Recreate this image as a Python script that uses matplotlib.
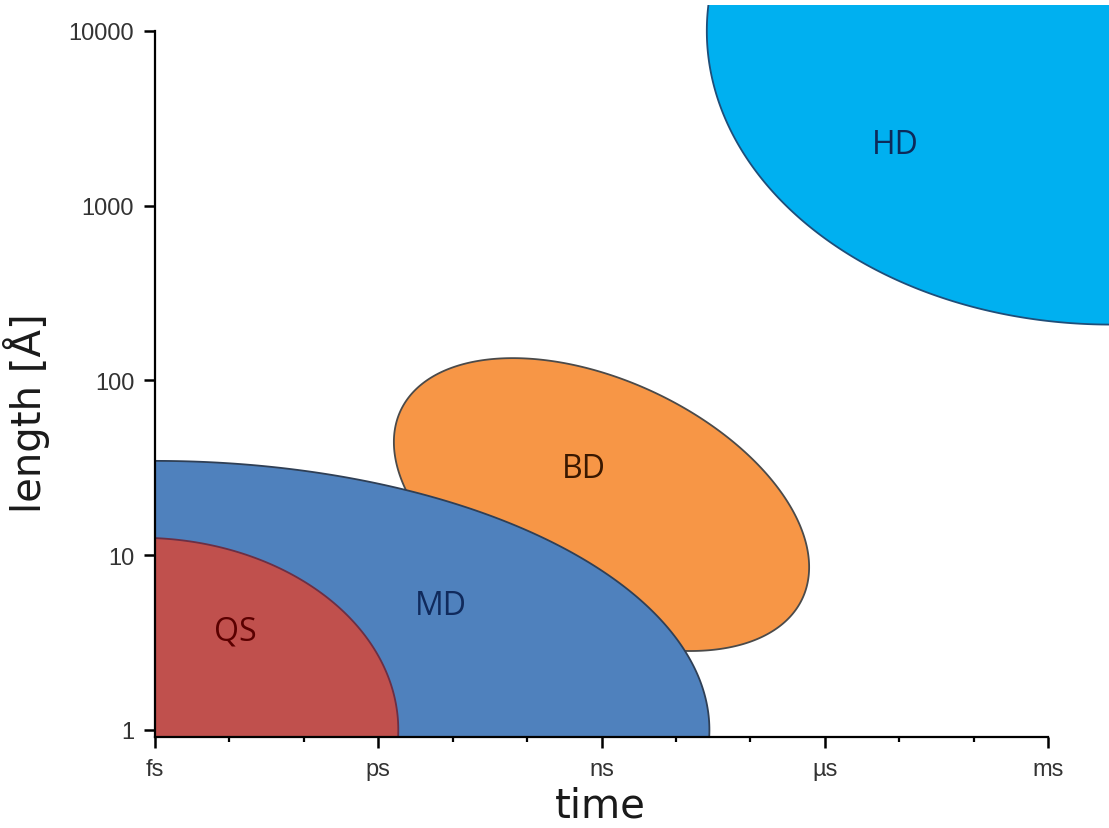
import numpy as np
import matplotlib.pyplot as plt
from matplotlib.ticker import NullFormatter, NullLocator
from matplotlib.transforms import Bbox, TransformedBbox

# Regions of the time / length map (ellipses drawn in log-log space)
regions = ["QS", "MD", "BD", "HD"]
centre_time = [6.3e-16, 1e-15, 1e-9, 7e-3]       # s
centre_length = [1.0, 1.0, 19.5, 10000.0]        # Å
time_span = [3.47, 7.45, 2.79, 5.43]             # half width, decades
length_span = [1.10, 1.54, 0.838, 1.68]          # half height, decades
tilt = [0.0, 0.0, -0.427, 0.0]

label_time = [1.2e-14, 7.0e-12, 5.8e-10, 8.8e-6]
label_length = [3.69, 5.19, 31.2, 2256.0]

fill_colors = ["#C0504D", "#4F81BD", "#F79646", "#00B0F0"]
edge_colors = ["#6b2f45", "#2f3f55", "#4a4a4a", "#1f4e79"]
text_colors = ["#5a0000", "#102a5c", "#3a1800", "#0d2a5a"]
layer = [1.3, 1.2, 1.1, 1.0]

time_ticks = [1e-15, 1e-12, 1e-9, 1e-6, 1e-3]
time_labels = ["fs", "ps", "ns", "µs", "ms"]
length_ticks = [1, 10, 100, 1000, 10000]
length_labels = ["1", "10", "100", "1000", "10000"]


def ellipse_outline(t0, l0, dx, dy, rho, n=600):
    t = np.linspace(0, 2 * np.pi, n)
    d = np.arccos(rho)
    lx = np.log10(t0) + dx * np.cos(t)
    ly = np.log10(l0) + dy * np.cos(t + d)
    return 10 ** lx, 10 ** ly


fig = plt.figure(figsize=(11.09, 8.29), dpi=100)
ax = fig.add_axes([155 / 1109, 91 / 829, 893 / 1109, 706 / 829])
ax.set_xscale("log")
ax.set_yscale("log")
ax.set_xlim(1e-15, 1e-3)
ax.set_ylim(10 ** (-7 / 174.75), 10000)

for i, name in enumerate(regions):
    xs, ys = ellipse_outline(centre_time[i], centre_length[i], time_span[i],
                             length_span[i], tilt[i])
    patch = ax.fill(xs, ys, facecolor=fill_colors[i], edgecolor=edge_colors[i],
                    linewidth=1.3, zorder=layer[i])[0]
    if name == "HD":
        # this one spills out of the axes up to the figure border
        patch.set_clip_box(TransformedBbox(Bbox([[0, 0], [1, 1 - 6 / 829]]),
                                           fig.transFigure))
    ax.text(label_time[i], label_length[i], name, color=text_colors[i],
            fontsize=23, family=["Open Sans", "DejaVu Sans"],
            ha="center", va="center", zorder=4)

for side in ["top", "right"]:
    ax.spines[side].set_visible(False)
for side in ["left", "bottom"]:
    ax.spines[side].set_linewidth(1.6)
    ax.spines[side].set_zorder(3)

ax.set_xticks(time_ticks)
ax.set_xticklabels(time_labels)
minor = [10.0 ** e for e in range(-15, -2) if e % 3 != 0]
ax.set_xticks(minor, minor=True)
ax.xaxis.set_minor_formatter(NullFormatter())
ax.set_yticks(length_ticks)
ax.set_yticklabels(length_labels)
ax.yaxis.set_minor_locator(NullLocator())

ax.tick_params(which="major", length=8, width=1.8, pad=7, labelsize=17,
               labelcolor="#333333")
ax.tick_params(axis="x", which="minor", length=3.5, width=1.6)
for lab in ax.get_xticklabels() + ax.get_yticklabels():
    lab.set_family(["Liberation Sans", "DejaVu Sans"])

fig.text(27 / 1109, 1 - 413 / 829, "length [Å]", rotation=90, fontsize=29,
         color="#1a1a1a", ha="center", va="center")
fig.text(600 / 1109, 1 - 818 / 829, "time", fontsize=29, color="#1a1a1a",
         ha="center", va="baseline")

fig.savefig("out.png", dpi=100)
